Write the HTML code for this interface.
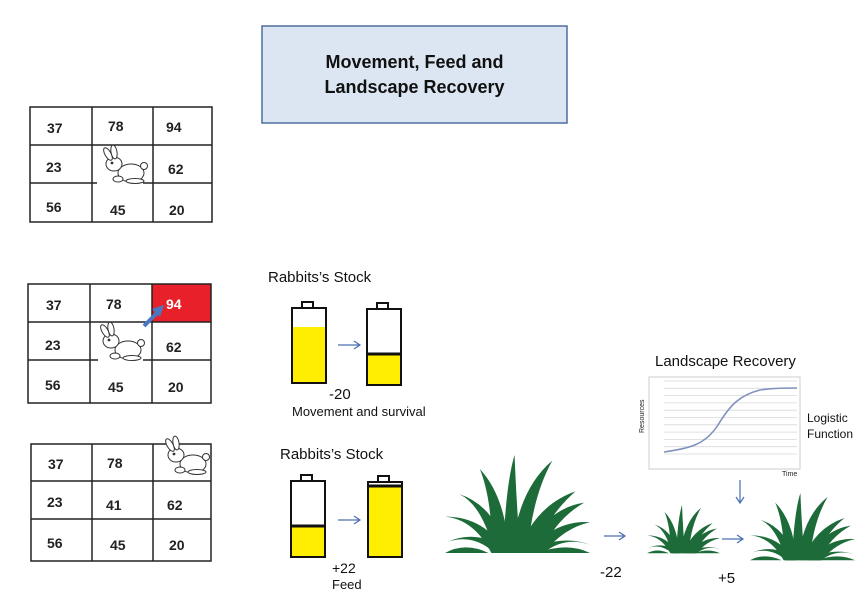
<!DOCTYPE html>
<html><head><meta charset="utf-8"><style>
body{margin:0;background:#fff;}
#c{position:relative;width:855px;height:598px;overflow:hidden;font-family:"Liberation Sans",sans-serif;}
.t{position:absolute;font-size:14px;color:#111;white-space:nowrap;}
.n{position:absolute;font-size:14px;font-weight:bold;color:#222;}
</style></head><body><div id="c">
<svg width="855" height="598" style="position:absolute;left:0;top:0">
<defs>
<g id="rab" fill="#fff" stroke="#333" stroke-width="1">
<ellipse cx="28" cy="25" rx="13" ry="9"/>
<circle cx="41" cy="18" r="3.5" />
<ellipse cx="11" cy="16" rx="8" ry="7"/>
<ellipse cx="5" cy="6" rx="3" ry="7" transform="rotate(-30 5 6)"/>
<ellipse cx="11" cy="4" rx="3" ry="7" transform="rotate(-10 11 4)"/>
<ellipse cx="15" cy="31" rx="5" ry="3"/>
<ellipse cx="32" cy="33" rx="9" ry="2.5"/>
<circle cx="9" cy="15" r="0.9" fill="#333"/>
</g>
<g id="grass" fill="#1e6b3a">
<path d="M40 70 Q42 20 48 0 Q49 30 52 70Z"/>
<path d="M33 70 Q32 30 24 10 Q42 30 44 70Z"/>
<path d="M46 70 Q50 25 74 4 Q60 30 57 70Z"/>
<path d="M50 70 Q62 36 90 26 Q70 44 62 70Z"/>
<path d="M32 70 Q20 46 0 44 Q28 44 42 70Z"/>
<path d="M34 70 Q26 36 10 28 Q34 36 44 70Z"/>
<path d="M56 70 Q76 46 100 48 Q82 52 68 70Z"/>
<path d="M54 70 Q70 38 96 34 Q76 46 66 70Z"/>
<path d="M34 70 Q20 56 2 62 Q24 52 46 70Z"/>
<path d="M56 70 Q78 56 100 64 Q82 58 68 70Z"/>
<path d="M30 70 Q14 62 0 70Z"/>
<path d="M64 70 Q84 62 100 70Z"/>
</g>
</defs>
<rect x="262" y="26" width="305" height="97" fill="#dce6f2" stroke="#4f6fa0" stroke-width="1.5"/>
<g stroke="#222" stroke-width="1.5" fill="none">
<rect x="30" y="107" width="182" height="115"/>
<line x1="92" y1="107" x2="92" y2="222"/><line x1="153" y1="107" x2="153" y2="222"/>
<line x1="30" y1="145" x2="212" y2="145"/>
<line x1="30" y1="183" x2="97" y2="183"/><line x1="143" y1="183" x2="212" y2="183"/>
</g>
<rect x="152" y="284" width="59" height="38" fill="#e8202a"/>
<g stroke="#222" stroke-width="1.5" fill="none">
<rect x="28" y="284" width="183" height="119"/>
<line x1="90" y1="284" x2="90" y2="403"/><line x1="152" y1="284" x2="152" y2="403"/>
<line x1="28" y1="322" x2="211" y2="322"/>
<line x1="28" y1="360" x2="98" y2="360"/><line x1="143" y1="360" x2="211" y2="360"/>
<rect x="31" y="444" width="180" height="117"/>
<line x1="92" y1="444" x2="92" y2="561"/><line x1="153" y1="444" x2="153" y2="561"/>
<line x1="31" y1="481" x2="211" y2="481"/><line x1="31" y1="519" x2="211" y2="519"/>
</g>
<rect x="155" y="432" width="56" height="11" fill="#fff"/>
<use href="#rab" x="103" y="148"/>
<use href="#rab" x="100" y="325"/>
<use href="#rab" x="165" y="439"/>
<line x1="144" y1="326" x2="158" y2="312" stroke="#4a78c0" stroke-width="4"/>
<polygon points="164,305 152,309 160,317" fill="#4a78c0"/>
<g stroke="#111" stroke-width="2">
<rect x="292" y="327" width="34" height="56" fill="#ffee00" stroke="none"/>
<rect x="292" y="308" width="34" height="75" fill="none"/>
<rect x="302" y="302" width="11" height="6" fill="#fff"/>
<rect x="367" y="355" width="34" height="30" fill="#ffee00" stroke="none"/>
<rect x="367" y="309" width="34" height="76" fill="none"/>
<rect x="377" y="303" width="11" height="6" fill="#fff"/>
<line x1="366" y1="354" x2="402" y2="354" stroke-width="3"/>
<rect x="291" y="526" width="34" height="31" fill="#ffee00" stroke="none"/>
<rect x="291" y="481" width="34" height="76" fill="none"/>
<rect x="301" y="475" width="11" height="6" fill="#fff"/>
<line x1="290" y1="526" x2="326" y2="526" stroke-width="3"/>
<rect x="368" y="486" width="34" height="71" fill="#ffee00" stroke="none"/>
<rect x="368" y="482" width="34" height="75" fill="none"/>
<rect x="378" y="476" width="11" height="6" fill="#fff"/>
<line x1="367" y1="486" x2="403" y2="486" stroke-width="3"/>
</g>
<g stroke="#4a6fb0" stroke-width="1.2" fill="none">
<path d="M338 345H360M354 341L360 345L354 349"/>
<path d="M338 520H360M354 516L360 520L354 524"/>
<path d="M604 536H625M619 532L625 536L619 540"/>
<path d="M722 539H743M737 535L743 539L737 543"/>
<path d="M740 480V503M736 497L740 503L744 497"/>
</g>
<g transform="translate(445,455) scale(1.45,1.4)"><use href="#grass"/></g>
<g transform="translate(647,505) scale(0.73,0.69)"><use href="#grass"/></g>
<g transform="translate(750,493) scale(1.05,0.96)"><use href="#grass"/></g>
<rect x="649" y="377" width="151" height="92" fill="#fff" stroke="#ccc"/>
<g stroke="#d8d8d8" stroke-width="0.8">
<line x1="664" y1="381" x2="797" y2="381"/><line x1="664" y1="388.3" x2="797" y2="388.3"/>
<line x1="664" y1="395.6" x2="797" y2="395.6"/><line x1="664" y1="402.9" x2="797" y2="402.9"/>
<line x1="664" y1="410.2" x2="797" y2="410.2"/><line x1="664" y1="417.5" x2="797" y2="417.5"/>
<line x1="664" y1="424.8" x2="797" y2="424.8"/><line x1="664" y1="432.1" x2="797" y2="432.1"/>
<line x1="664" y1="439.4" x2="797" y2="439.4"/><line x1="664" y1="446.7" x2="797" y2="446.7"/>
<line x1="664" y1="454" x2="797" y2="454"/>
</g>
<path d="M664 452 C690 448 705 445 718 425 C730 405 740 395 760 390 C775 388 785 388 797 388" fill="none" stroke="#7f92bd" stroke-width="1.6"/>
<text x="644" y="433" font-size="7" transform="rotate(-90 644 433)" font-family="Liberation Sans" fill="#222">Resources</text>
<text x="782" y="476" font-size="7" font-family="Liberation Sans" fill="#222">Time</text>
</svg>
<div class="t" style="left:262px;top:50px;width:305px;text-align:center;font-weight:bold;font-size:18px;line-height:25px">Movement, Feed and<br>Landscape Recovery</div>
<div class="n" style="left:47px;top:120px">37</div><div class="n" style="left:108px;top:118px">78</div><div class="n" style="left:166px;top:119px">94</div>
<div class="n" style="left:46px;top:159px">23</div><div class="n" style="left:168px;top:161px">62</div>
<div class="n" style="left:46px;top:199px">56</div><div class="n" style="left:110px;top:202px">45</div><div class="n" style="left:169px;top:202px">20</div>
<div class="n" style="left:46px;top:297px">37</div><div class="n" style="left:106px;top:296px">78</div><div class="n" style="left:166px;top:296px;color:#fff">94</div>
<div class="n" style="left:45px;top:337px">23</div><div class="n" style="left:166px;top:339px">62</div>
<div class="n" style="left:45px;top:377px">56</div><div class="n" style="left:108px;top:379px">45</div><div class="n" style="left:168px;top:379px">20</div>
<div class="n" style="left:48px;top:456px">37</div><div class="n" style="left:107px;top:455px">78</div>
<div class="n" style="left:47px;top:494px">23</div><div class="n" style="left:106px;top:497px">41</div><div class="n" style="left:167px;top:497px">62</div>
<div class="n" style="left:47px;top:535px">56</div><div class="n" style="left:110px;top:537px">45</div><div class="n" style="left:169px;top:537px">20</div>
<div class="t" style="left:268px;top:269px;font-size:15px">Rabbits’s Stock</div>
<div class="t" style="left:280px;top:446px;font-size:15px">Rabbits’s Stock</div>
<div class="t" style="left:329px;top:386px;font-size:15px">-20</div>
<div class="t" style="left:292px;top:404px;font-size:13px">Movement and survival</div>
<div class="t" style="left:332px;top:560px;font-size:14px">+22</div>
<div class="t" style="left:332px;top:577px;font-size:13px">Feed</div>
<div class="t" style="left:600px;top:564px;font-size:15px">-22</div>
<div class="t" style="left:718px;top:570px;font-size:15px">+5</div>
<div class="t" style="left:655px;top:353px;font-size:15px">Landscape Recovery</div>
<div class="t" style="left:807px;top:410px;font-size:12px;line-height:16px">Logistic<br>Function</div>
</div></body></html>
